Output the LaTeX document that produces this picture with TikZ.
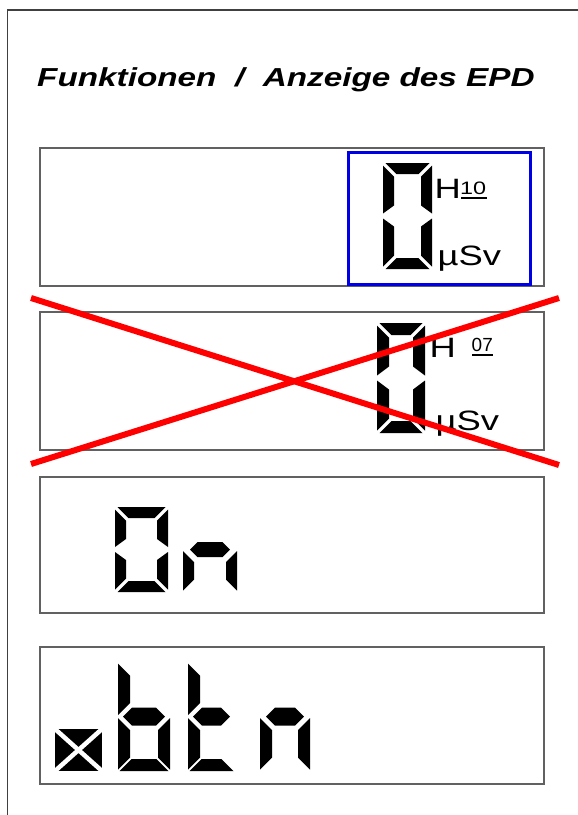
\documentclass[tikz,border=0pt]{standalone}
\usepackage{fontspec}
\usepackage{graphicx}
\setmainfont{Liberation Sans}

% seven-segment digit: box corners, segment thickness, gap, middle cut, hex half height, hex inset
\newcommand\lcdbox[9]{%
  \def\lcdXa{#1}\def\lcdYa{#2}\def\lcdXb{#3}\def\lcdYb{#4}%
  \def\lcdT{#5}\def\lcdG{#6}\def\lcdC{#7}\def\lcdH{#8}\def\lcdP{#9}%
  \pgfmathsetmacro\lcdM{(#2+#4)/2}}
\newcommand\segA{\fill[lcdseg] (\lcdXa+\lcdG,\lcdYa) -- (\lcdXb-\lcdG,\lcdYa) -- (\lcdXb-\lcdG-\lcdT,\lcdYa+\lcdT) -- (\lcdXa+\lcdG+\lcdT,\lcdYa+\lcdT) -- cycle;}
\newcommand\segD{\fill[lcdseg] (\lcdXa+\lcdG,\lcdYb) -- (\lcdXb-\lcdG,\lcdYb) -- (\lcdXb-\lcdG-\lcdT,\lcdYb-\lcdT) -- (\lcdXa+\lcdG+\lcdT,\lcdYb-\lcdT) -- cycle;}
\newcommand\segF{\fill[lcdseg] (\lcdXa,\lcdYa+\lcdG) -- (\lcdXa+\lcdT,\lcdYa+\lcdG+\lcdT) -- (\lcdXa+\lcdT,\lcdM-\lcdG-\lcdC) -- (\lcdXa,\lcdM-\lcdG) -- cycle;}
\newcommand\segE{\fill[lcdseg] (\lcdXa,\lcdYb-\lcdG) -- (\lcdXa+\lcdT,\lcdYb-\lcdG-\lcdT) -- (\lcdXa+\lcdT,\lcdM+\lcdG+\lcdC) -- (\lcdXa,\lcdM+\lcdG) -- cycle;}
\newcommand\segB{\fill[lcdseg] (\lcdXb,\lcdYa+\lcdG) -- (\lcdXb-\lcdT,\lcdYa+\lcdG+\lcdT) -- (\lcdXb-\lcdT,\lcdM-\lcdG-\lcdC) -- (\lcdXb,\lcdM-\lcdG) -- cycle;}
\newcommand\segC{\fill[lcdseg] (\lcdXb,\lcdYb-\lcdG) -- (\lcdXb-\lcdT,\lcdYb-\lcdG-\lcdT) -- (\lcdXb-\lcdT,\lcdM+\lcdG+\lcdC) -- (\lcdXb,\lcdM+\lcdG) -- cycle;}
\newcommand\segG{\fill[lcdseg] (\lcdXa+\lcdP,\lcdM) -- (\lcdXa+\lcdP+\lcdH,\lcdM-\lcdH) -- (\lcdXb-\lcdP-\lcdH,\lcdM-\lcdH) -- (\lcdXb-\lcdP,\lcdM) -- (\lcdXb-\lcdP-\lcdH,\lcdM+\lcdH) -- (\lcdXa+\lcdP+\lcdH,\lcdM+\lcdH) -- cycle;}
\newcommand\widetext[2]{\scalebox{#1}[1]{#2}}

\begin{document}
\begin{tikzpicture}[x=1pt,y=-1pt]
\tikzset{
  frameline/.style={draw=black!75, line width=1.6pt},
  panelbox/.style={draw=black!62, line width=1.5pt},
  lcdseg/.style={fill=black},
  crossline/.style={draw=red, line width=6pt},
  hilite/.style={draw=blue!90!black, line width=3pt},
  lbl/.style={inner sep=0pt, anchor=base west, font=\fontsize{28}{28}\selectfont},
  smalllbl/.style={inner sep=0pt, anchor=base west, font=\fontsize{18}{18}\selectfont},
  uline/.style={draw=black, line width=1.5pt},
}
\useasboundingbox (0,0) rectangle (578,815);
\fill[white] (0,0) rectangle (578,815);

% outer frame (left and top edge)
\draw[frameline] (7.5,815) -- (7.5,10) -- (578,10);

% title
\node[inner sep=0pt, anchor=base west] (title) at (37,86)
  {\fontsize{26}{26}\selectfont\bfseries\itshape\widetext{1.28}{Funktionen\ \ /\ \ Anzeige des EPD}};

% display panels
\draw[panelbox] (40,148) rectangle (544,286);
\draw[panelbox] (40,312) rectangle (544,450);
\draw[panelbox] (40,477) rectangle (544,613);
\draw[panelbox] (40,647) rectangle (544,784);

% panel 1: H10 dose display
\draw[hilite] (348,152) rectangle (530,284);
\lcdbox{383}{163}{432}{269}{11}{2.5}{8}{0}{0}
\segA \segB \segC \segD \segE \segF
\node[lbl] (h1) at (434.5,198) {\widetext{1.3}{H}};
\node[smalllbl] (ten) at (460,194.5) {\widetext{1.3}{10}};
\draw[uline] (461,198) -- (487,198);
\node[lbl] (usv1) at (437.5,265) {\widetext{1.3}{µSv}};

% panel 2: H07 dose display
\lcdbox{377}{323}{425}{433}{12}{2.5}{9}{0}{0}
\segA \segB \segC \segD \segE \segF
\node[lbl] (h2) at (429.5,357) {\widetext{1.3}{H}};
\node[inner sep=0pt, anchor=base west, font=\fontsize{19}{19}\selectfont] (oseven) at (471.5,351) {07};
\draw[uline] (472,355) -- (493,355);
\node[lbl] (usv2) at (435.5,430) {\widetext{1.3}{µSv}};

% panel 3: On
\lcdbox{115}{507}{168}{592}{11}{2.5}{8}{0}{0}
\segA \segB \segC \segD \segE \segF
\lcdbox{183}{507}{237}{592}{11}{1.5}{11}{7.5}{7}
\segG \segE \segC

% panel 4: button symbol and btn
\fill[lcdseg] (55,729) rectangle (102,771);
\draw[white, line width=4.5pt] (55,729) -- (102,771) (55,771) -- (102,729);
\lcdbox{118}{662}{170}{771}{12}{1.5}{12}{9}{5}
\segF \segE \segG \segC \segD
\lcdbox{188}{662}{235}{771}{12}{1.5}{12}{9}{5}
\segF \segE \segG \segD
\lcdbox{260}{662}{310}{771}{12}{1.5}{12}{9}{6}
\segG \segE \segC

% crossed-out panel
\draw[crossline] (31,298) -- (559,465);
\draw[crossline] (31,464) -- (559,298);
\end{tikzpicture}
\end{document}
